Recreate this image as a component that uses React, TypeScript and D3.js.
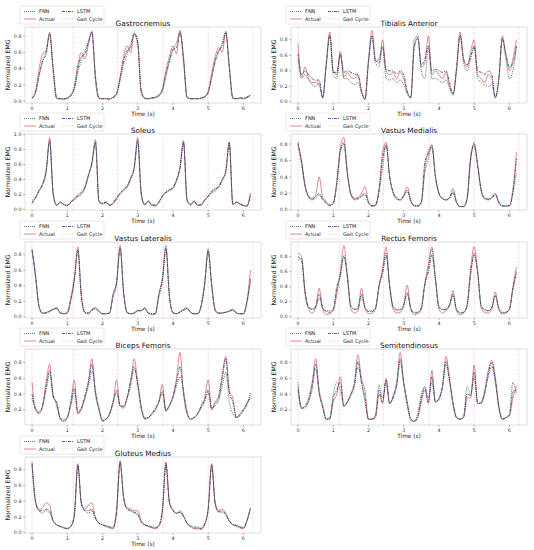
import * as d3 from "d3";

// sample times (s) shared by every series
const time = [
  0.0, 0.1, 0.2, 0.3, 0.4, 0.5, 0.6, 0.7, 0.8, 0.9,
  1.0, 1.1, 1.2, 1.3, 1.4, 1.5, 1.6, 1.7, 1.8, 1.9,
  2.0, 2.1, 2.2, 2.3, 2.4, 2.5, 2.6, 2.7, 2.8, 2.9,
  3.0, 3.1, 3.2, 3.3, 3.4, 3.5, 3.6, 3.7, 3.8, 3.9,
  4.0, 4.1, 4.2, 4.3, 4.4, 4.5, 4.6, 4.7, 4.8, 4.9,
  5.0, 5.1, 5.2, 5.3, 5.4, 5.5, 5.6, 5.7, 5.8, 5.9,
  6.0, 6.1, 6.2,
];
const gaitCycle = [0, 1.17, 2.43, 3.72, 5.0, 6.27];
const timeTicks = [0, 1, 2, 3, 4, 5, 6];
const seriesNames = ["FNN", "Actual", "LSTM", "Gait Cycle"];
const muscles = [
  "Gastrocnemius", "Tibialis Anterior", "Soleus", "Vastus Medialis", "Vastus Lateralis",
  "Rectus Femoris", "Biceps Femoris", "Semitendinosus", "Gluteus Medius",
];

const gastroActual = [
  0.03, 0.12, 0.40, 0.58, 0.62, 0.85, 0.35, 0.03, 0.03, 0.02,
  0.04, 0.08, 0.18, 0.45, 0.60, 0.52, 0.70, 0.86, 0.25, 0.03,
  0.03, 0.03, 0.02, 0.05, 0.10, 0.30, 0.55, 0.68, 0.60, 0.82,
  0.70, 0.10, 0.03, 0.03, 0.04, 0.05, 0.08, 0.15, 0.38, 0.55,
  0.68, 0.58, 0.87, 0.50, 0.04, 0.03, 0.03, 0.03, 0.04, 0.06,
  0.12, 0.35, 0.55, 0.66, 0.60, 0.85, 0.40, 0.03, 0.03, 0.04,
  0.03, 0.05, 0.08,
];
const gastroFNN = [
  0.04, 0.10, 0.30, 0.48, 0.62, 0.83, 0.42, 0.04, 0.03, 0.03,
  0.03, 0.06, 0.15, 0.35, 0.50, 0.62, 0.74, 0.84, 0.32, 0.04,
  0.03, 0.03, 0.03, 0.04, 0.08, 0.25, 0.45, 0.58, 0.70, 0.83,
  0.74, 0.14, 0.04, 0.03, 0.03, 0.04, 0.06, 0.12, 0.30, 0.48,
  0.62, 0.72, 0.86, 0.55, 0.05, 0.03, 0.03, 0.03, 0.03, 0.05,
  0.10, 0.28, 0.48, 0.60, 0.72, 0.86, 0.45, 0.05, 0.03, 0.03,
  0.03, 0.04, 0.06,
];
const gastroLSTM = [
  0.04, 0.12, 0.33, 0.50, 0.58, 0.82, 0.40, 0.04, 0.03, 0.03,
  0.04, 0.07, 0.16, 0.40, 0.55, 0.58, 0.72, 0.85, 0.30, 0.04,
  0.03, 0.03, 0.03, 0.05, 0.09, 0.28, 0.50, 0.62, 0.66, 0.84,
  0.72, 0.12, 0.04, 0.03, 0.04, 0.05, 0.07, 0.14, 0.33, 0.50,
  0.64, 0.66, 0.84, 0.52, 0.05, 0.03, 0.03, 0.03, 0.04, 0.05,
  0.11, 0.30, 0.50, 0.62, 0.68, 0.84, 0.42, 0.04, 0.03, 0.04,
  0.04, 0.05, 0.07,
];

const tibialisActual = [
  0.75, 0.32, 0.45, 0.30, 0.25, 0.25, 0.22, 0.05, 0.50, 0.90,
  0.40, 0.35, 0.65, 0.32, 0.38, 0.32, 0.30, 0.35, 0.15, 0.03,
  0.55, 0.92, 0.55, 0.50, 0.80, 0.40, 0.35, 0.38, 0.30, 0.38,
  0.30, 0.12, 0.05, 0.80, 0.85, 0.45, 0.50, 0.85, 0.35, 0.40,
  0.35, 0.30, 0.38, 0.20, 0.10, 0.45, 0.90, 0.55, 0.45, 0.65,
  0.80, 0.35, 0.30, 0.25, 0.35, 0.30, 0.05, 0.30, 0.85, 0.60,
  0.40, 0.55, 0.80,
];
const tibialisFNN = [
  0.55, 0.30, 0.35, 0.28, 0.22, 0.20, 0.25, 0.05, 0.45, 0.85,
  0.35, 0.30, 0.60, 0.30, 0.30, 0.25, 0.22, 0.25, 0.12, 0.03,
  0.50, 0.85, 0.50, 0.45, 0.70, 0.30, 0.28, 0.30, 0.25, 0.28,
  0.22, 0.10, 0.05, 0.70, 0.82, 0.40, 0.30, 0.70, 0.30, 0.30,
  0.28, 0.25, 0.28, 0.18, 0.08, 0.40, 0.85, 0.50, 0.40, 0.55,
  0.70, 0.30, 0.25, 0.22, 0.20, 0.22, 0.05, 0.28, 0.80, 0.55,
  0.30, 0.40, 0.70,
];
const tibialisLSTM = [
  0.62, 0.35, 0.40, 0.35, 0.30, 0.28, 0.28, 0.06, 0.48, 0.86,
  0.38, 0.38, 0.62, 0.38, 0.40, 0.38, 0.36, 0.35, 0.14, 0.04,
  0.52, 0.85, 0.52, 0.55, 0.72, 0.42, 0.40, 0.40, 0.36, 0.40,
  0.35, 0.14, 0.06, 0.72, 0.82, 0.48, 0.55, 0.72, 0.40, 0.42,
  0.40, 0.38, 0.40, 0.25, 0.10, 0.42, 0.86, 0.55, 0.48, 0.58,
  0.72, 0.40, 0.38, 0.35, 0.40, 0.35, 0.06, 0.30, 0.82, 0.62,
  0.45, 0.50, 0.72,
];

const soleusActual = [
  0.10, 0.15, 0.25, 0.32, 0.50, 0.96, 0.20, 0.05, 0.10, 0.06,
  0.05, 0.10, 0.13, 0.17, 0.20, 0.28, 0.45, 0.62, 0.93, 0.10,
  0.08, 0.10, 0.05, 0.08, 0.14, 0.20, 0.25, 0.30, 0.40, 0.55,
  0.96, 0.20, 0.06, 0.12, 0.06, 0.05, 0.10, 0.18, 0.22, 0.25,
  0.28, 0.38, 0.55, 0.92, 0.12, 0.06, 0.12, 0.05, 0.06, 0.12,
  0.18, 0.22, 0.25, 0.30, 0.40, 0.50, 0.90, 0.06, 0.10, 0.08,
  0.05, 0.04, 0.22,
];
const soleusFNN = [
  0.12, 0.17, 0.24, 0.35, 0.50, 0.90, 0.22, 0.06, 0.09, 0.07,
  0.05, 0.09, 0.14, 0.18, 0.22, 0.30, 0.45, 0.60, 0.88, 0.12,
  0.07, 0.09, 0.06, 0.08, 0.15, 0.22, 0.26, 0.32, 0.42, 0.55,
  0.90, 0.22, 0.07, 0.10, 0.07, 0.05, 0.09, 0.17, 0.24, 0.27,
  0.30, 0.38, 0.55, 0.88, 0.14, 0.06, 0.10, 0.06, 0.06, 0.12,
  0.17, 0.25, 0.28, 0.30, 0.38, 0.50, 0.88, 0.08, 0.09, 0.07,
  0.05, 0.05, 0.18,
];
const soleusLSTM = [
  0.08, 0.16, 0.26, 0.34, 0.52, 0.92, 0.21, 0.06, 0.10, 0.07,
  0.06, 0.10, 0.15, 0.19, 0.23, 0.30, 0.46, 0.63, 0.90, 0.11,
  0.08, 0.10, 0.06, 0.09, 0.16, 0.22, 0.27, 0.31, 0.42, 0.56,
  0.92, 0.21, 0.07, 0.11, 0.06, 0.06, 0.10, 0.18, 0.23, 0.26,
  0.29, 0.40, 0.56, 0.90, 0.13, 0.07, 0.11, 0.06, 0.07, 0.13,
  0.18, 0.24, 0.27, 0.31, 0.40, 0.52, 0.89, 0.07, 0.10, 0.07,
  0.06, 0.05, 0.20,
];

const medialisActual = [
  0.80, 0.60, 0.30, 0.17, 0.14, 0.18, 0.40, 0.15, 0.10, 0.06,
  0.08, 0.35, 0.75, 0.88, 0.45, 0.20, 0.14, 0.15, 0.20, 0.28,
  0.10, 0.05, 0.06, 0.25, 0.70, 0.82, 0.40, 0.22, 0.15, 0.12,
  0.18, 0.28, 0.12, 0.05, 0.05, 0.10, 0.50, 0.72, 0.78, 0.40,
  0.20, 0.14, 0.12, 0.15, 0.26, 0.10, 0.04, 0.04, 0.15, 0.65,
  0.80, 0.55, 0.25, 0.14, 0.13, 0.15, 0.20, 0.10, 0.05, 0.05,
  0.05, 0.25, 0.70,
];
const medialisFNN = [
  0.78, 0.55, 0.28, 0.15, 0.12, 0.14, 0.18, 0.12, 0.08, 0.05,
  0.08, 0.30, 0.70, 0.82, 0.45, 0.18, 0.12, 0.13, 0.16, 0.18,
  0.08, 0.04, 0.05, 0.22, 0.50, 0.80, 0.42, 0.20, 0.13, 0.12,
  0.16, 0.22, 0.10, 0.05, 0.04, 0.08, 0.45, 0.62, 0.80, 0.42,
  0.20, 0.13, 0.12, 0.14, 0.20, 0.08, 0.04, 0.04, 0.12, 0.60,
  0.82, 0.55, 0.22, 0.13, 0.12, 0.14, 0.18, 0.08, 0.04, 0.04,
  0.05, 0.20, 0.45,
];
const medialisLSTM = [
  0.82, 0.58, 0.29, 0.16, 0.13, 0.16, 0.20, 0.13, 0.09, 0.05,
  0.08, 0.32, 0.72, 0.80, 0.44, 0.19, 0.13, 0.14, 0.17, 0.20,
  0.09, 0.05, 0.06, 0.24, 0.62, 0.78, 0.40, 0.21, 0.14, 0.12,
  0.17, 0.24, 0.11, 0.05, 0.05, 0.09, 0.58, 0.68, 0.76, 0.40,
  0.20, 0.14, 0.12, 0.15, 0.22, 0.09, 0.04, 0.04, 0.14, 0.62,
  0.78, 0.52, 0.24, 0.14, 0.13, 0.15, 0.19, 0.09, 0.05, 0.05,
  0.05, 0.22, 0.62,
];

const lateralisActual = [
  0.88, 0.55, 0.12, 0.04, 0.05, 0.08, 0.10, 0.12, 0.05, 0.04,
  0.06, 0.25, 0.50, 0.90, 0.25, 0.05, 0.04, 0.10, 0.12, 0.08,
  0.04, 0.04, 0.05, 0.30, 0.45, 0.92, 0.30, 0.05, 0.04, 0.05,
  0.09, 0.08, 0.12, 0.05, 0.03, 0.04, 0.30, 0.50, 0.92, 0.25,
  0.05, 0.04, 0.07, 0.10, 0.12, 0.06, 0.04, 0.04, 0.15, 0.45,
  0.88, 0.40, 0.08, 0.04, 0.05, 0.06, 0.08, 0.10, 0.05, 0.04,
  0.04, 0.20, 0.60,
];
const lateralisFNN = [
  0.85, 0.50, 0.14, 0.05, 0.06, 0.07, 0.09, 0.10, 0.06, 0.04,
  0.05, 0.20, 0.45, 0.85, 0.28, 0.06, 0.05, 0.08, 0.10, 0.07,
  0.04, 0.04, 0.05, 0.25, 0.42, 0.88, 0.32, 0.06, 0.04, 0.05,
  0.07, 0.08, 0.10, 0.05, 0.04, 0.04, 0.25, 0.45, 0.88, 0.28,
  0.06, 0.04, 0.06, 0.08, 0.10, 0.06, 0.04, 0.04, 0.12, 0.40,
  0.85, 0.42, 0.09, 0.05, 0.05, 0.06, 0.07, 0.09, 0.05, 0.04,
  0.04, 0.18, 0.45,
];
const lateralisLSTM = [
  0.86, 0.52, 0.13, 0.05, 0.05, 0.07, 0.10, 0.11, 0.05, 0.04,
  0.05, 0.22, 0.48, 0.86, 0.27, 0.06, 0.05, 0.09, 0.11, 0.07,
  0.04, 0.04, 0.05, 0.28, 0.44, 0.88, 0.31, 0.06, 0.04, 0.05,
  0.08, 0.08, 0.11, 0.05, 0.04, 0.04, 0.28, 0.48, 0.88, 0.27,
  0.06, 0.04, 0.06, 0.09, 0.11, 0.06, 0.04, 0.04, 0.14, 0.42,
  0.84, 0.41, 0.09, 0.05, 0.05, 0.06, 0.07, 0.09, 0.05, 0.04,
  0.04, 0.19, 0.50,
];

const rectusActual = [
  0.85, 0.80, 0.30, 0.10, 0.05, 0.12, 0.38, 0.10, 0.03, 0.04,
  0.08, 0.30, 0.60, 0.95, 0.55, 0.10, 0.05, 0.08, 0.38, 0.12,
  0.04, 0.05, 0.10, 0.40, 0.65, 0.93, 0.40, 0.10, 0.05, 0.06,
  0.15, 0.42, 0.10, 0.03, 0.04, 0.10, 0.45, 0.70, 0.93, 0.50,
  0.10, 0.05, 0.08, 0.15, 0.35, 0.08, 0.03, 0.05, 0.15, 0.65,
  0.93, 0.60, 0.12, 0.06, 0.05, 0.10, 0.33, 0.10, 0.04, 0.05,
  0.10, 0.40, 0.66,
];
const rectusFNN = [
  0.75, 0.78, 0.35, 0.14, 0.10, 0.12, 0.25, 0.12, 0.08, 0.08,
  0.10, 0.35, 0.55, 0.82, 0.55, 0.15, 0.10, 0.10, 0.28, 0.12,
  0.08, 0.08, 0.12, 0.40, 0.60, 0.85, 0.42, 0.14, 0.10, 0.10,
  0.15, 0.30, 0.12, 0.06, 0.06, 0.12, 0.42, 0.65, 0.90, 0.52,
  0.14, 0.10, 0.10, 0.15, 0.28, 0.10, 0.06, 0.06, 0.15, 0.55,
  0.85, 0.60, 0.15, 0.10, 0.08, 0.12, 0.28, 0.12, 0.06, 0.06,
  0.10, 0.35, 0.58,
];
const rectusLSTM = [
  0.80, 0.75, 0.32, 0.12, 0.10, 0.14, 0.30, 0.12, 0.07, 0.06,
  0.10, 0.40, 0.55, 0.80, 0.52, 0.14, 0.10, 0.12, 0.30, 0.12,
  0.07, 0.07, 0.12, 0.42, 0.58, 0.82, 0.42, 0.13, 0.09, 0.09,
  0.16, 0.32, 0.11, 0.05, 0.06, 0.12, 0.44, 0.60, 0.82, 0.50,
  0.13, 0.09, 0.10, 0.16, 0.30, 0.09, 0.05, 0.06, 0.16, 0.58,
  0.82, 0.58, 0.14, 0.09, 0.08, 0.12, 0.28, 0.11, 0.05, 0.06,
  0.10, 0.38, 0.60,
];

const bicepsActual = [
  0.55, 0.20, 0.15, 0.25, 0.55, 0.78, 0.35, 0.30, 0.08, 0.05,
  0.10, 0.30, 0.58, 0.15, 0.20, 0.35, 0.55, 0.85, 0.40, 0.20,
  0.05, 0.08, 0.15, 0.30, 0.58, 0.25, 0.22, 0.35, 0.55, 0.85,
  0.55, 0.22, 0.08, 0.10, 0.15, 0.20, 0.30, 0.52, 0.18, 0.25,
  0.38, 0.60, 0.93, 0.40, 0.15, 0.08, 0.10, 0.15, 0.25, 0.35,
  0.58, 0.20, 0.30, 0.38, 0.65, 0.88, 0.45, 0.35, 0.10, 0.15,
  0.20, 0.28, 0.35,
];
const bicepsFNN = [
  0.35, 0.22, 0.18, 0.25, 0.45, 0.65, 0.40, 0.25, 0.10, 0.08,
  0.10, 0.25, 0.42, 0.18, 0.22, 0.35, 0.50, 0.70, 0.45, 0.22,
  0.08, 0.08, 0.15, 0.28, 0.42, 0.25, 0.25, 0.35, 0.50, 0.72,
  0.55, 0.25, 0.10, 0.10, 0.14, 0.20, 0.30, 0.45, 0.20, 0.25,
  0.35, 0.50, 0.62, 0.45, 0.18, 0.08, 0.10, 0.14, 0.22, 0.30,
  0.42, 0.22, 0.25, 0.32, 0.50, 0.68, 0.30, 0.15, 0.10, 0.12,
  0.18, 0.25, 0.42,
];
const bicepsLSTM = [
  0.40, 0.20, 0.16, 0.25, 0.50, 0.70, 0.38, 0.28, 0.09, 0.06,
  0.10, 0.28, 0.48, 0.16, 0.22, 0.38, 0.55, 0.78, 0.42, 0.21,
  0.06, 0.08, 0.14, 0.30, 0.45, 0.25, 0.24, 0.36, 0.58, 0.75,
  0.50, 0.22, 0.09, 0.10, 0.15, 0.22, 0.30, 0.42, 0.19, 0.26,
  0.36, 0.55, 0.75, 0.42, 0.16, 0.08, 0.10, 0.15, 0.24, 0.32,
  0.45, 0.21, 0.28, 0.35, 0.60, 0.85, 0.42, 0.30, 0.10, 0.14,
  0.20, 0.28, 0.38,
];

const semitendActual = [
  0.50, 0.22, 0.25, 0.35, 0.55, 0.85, 0.45, 0.25, 0.08, 0.08,
  0.30, 0.40, 0.62, 0.25, 0.30, 0.40, 0.55, 0.90, 0.60, 0.45,
  0.08, 0.08, 0.10, 0.40, 0.28, 0.60, 0.28, 0.38, 0.55, 0.93,
  0.55, 0.30, 0.08, 0.05, 0.10, 0.30, 0.45, 0.28, 0.70, 0.30,
  0.35, 0.50, 0.88, 0.60, 0.30, 0.10, 0.08, 0.10, 0.35, 0.35,
  0.77, 0.28, 0.30, 0.45, 0.70, 0.83, 0.62, 0.25, 0.08, 0.10,
  0.12, 0.35, 0.50,
];
const semitendFNN = [
  0.55, 0.22, 0.22, 0.30, 0.45, 0.72, 0.40, 0.22, 0.08, 0.10,
  0.40, 0.55, 0.45, 0.25, 0.30, 0.38, 0.50, 0.75, 0.55, 0.30,
  0.08, 0.08, 0.15, 0.52, 0.35, 0.55, 0.28, 0.35, 0.50, 0.80,
  0.52, 0.25, 0.08, 0.06, 0.15, 0.40, 0.50, 0.35, 0.55, 0.30,
  0.32, 0.48, 0.78, 0.55, 0.25, 0.10, 0.08, 0.12, 0.50, 0.40,
  0.60, 0.28, 0.28, 0.40, 0.62, 0.75, 0.55, 0.22, 0.08, 0.10,
  0.15, 0.55, 0.40,
];
const semitendLSTM = [
  0.45, 0.22, 0.24, 0.32, 0.50, 0.78, 0.42, 0.24, 0.08, 0.09,
  0.35, 0.45, 0.55, 0.24, 0.30, 0.40, 0.52, 0.82, 0.55, 0.35,
  0.08, 0.08, 0.12, 0.45, 0.30, 0.58, 0.28, 0.36, 0.52, 0.85,
  0.55, 0.28, 0.08, 0.05, 0.12, 0.35, 0.48, 0.30, 0.62, 0.30,
  0.34, 0.50, 0.82, 0.58, 0.28, 0.10, 0.08, 0.11, 0.40, 0.38,
  0.68, 0.28, 0.29, 0.42, 0.66, 0.80, 0.58, 0.24, 0.08, 0.10,
  0.13, 0.42, 0.45,
];

const gluteusActual = [
  0.90, 0.40, 0.30, 0.32, 0.38, 0.35, 0.15, 0.10, 0.08, 0.06,
  0.05, 0.08, 0.20, 0.88, 0.38, 0.30, 0.35, 0.38, 0.20, 0.12,
  0.10, 0.08, 0.06, 0.05, 0.25, 0.92, 0.45, 0.32, 0.30, 0.28,
  0.28, 0.15, 0.10, 0.08, 0.06, 0.05, 0.08, 0.25, 0.90, 0.40,
  0.30, 0.25, 0.28, 0.22, 0.12, 0.08, 0.05, 0.05, 0.04, 0.10,
  0.30, 0.88, 0.38, 0.28, 0.30, 0.25, 0.15, 0.10, 0.08, 0.06,
  0.05, 0.15, 0.32,
];
const gluteusFNN = [
  0.85, 0.38, 0.28, 0.25, 0.28, 0.25, 0.15, 0.10, 0.08, 0.07,
  0.06, 0.08, 0.25, 0.85, 0.38, 0.28, 0.25, 0.28, 0.18, 0.12,
  0.10, 0.09, 0.08, 0.07, 0.30, 0.88, 0.45, 0.30, 0.28, 0.25,
  0.22, 0.14, 0.10, 0.09, 0.08, 0.07, 0.10, 0.30, 0.86, 0.38,
  0.28, 0.24, 0.26, 0.20, 0.12, 0.09, 0.08, 0.07, 0.06, 0.12,
  0.30, 0.85, 0.36, 0.26, 0.26, 0.22, 0.15, 0.11, 0.10, 0.08,
  0.07, 0.15, 0.30,
];
const gluteusLSTM = [
  0.88, 0.40, 0.28, 0.28, 0.30, 0.28, 0.15, 0.10, 0.08, 0.06,
  0.05, 0.08, 0.22, 0.86, 0.36, 0.28, 0.28, 0.30, 0.18, 0.12,
  0.10, 0.08, 0.07, 0.06, 0.28, 0.90, 0.44, 0.30, 0.28, 0.26,
  0.24, 0.14, 0.10, 0.08, 0.07, 0.06, 0.09, 0.28, 0.88, 0.38,
  0.28, 0.25, 0.26, 0.21, 0.12, 0.08, 0.06, 0.06, 0.05, 0.11,
  0.30, 0.86, 0.37, 0.27, 0.28, 0.23, 0.15, 0.10, 0.09, 0.07,
  0.06, 0.15, 0.31,
];

const panelSeries = [
  [gastroFNN, gastroActual, gastroLSTM],
  [tibialisFNN, tibialisActual, tibialisLSTM],
  [soleusFNN, soleusActual, soleusLSTM],
  [medialisFNN, medialisActual, medialisLSTM],
  [lateralisFNN, lateralisActual, lateralisLSTM],
  [rectusFNN, rectusActual, rectusLSTM],
  [bicepsFNN, bicepsActual, bicepsLSTM],
  [semitendFNN, semitendActual, semitendLSTM],
  [gluteusFNN, gluteusActual, gluteusLSTM],
];

const W = 534;
const H = 550;
const colX = [0, 266];
const rowY = [0, 107, 215, 322, 430];
const font = "DejaVu Sans, sans-serif";

// FNN, Actual, LSTM, Gait Cycle
const styles = [
  { stroke: "#2a6a34", dash: "0.9 1.1", width: 0.9 },
  { stroke: "#d9505a", dash: "", width: 0.7 },
  { stroke: "#2c3580", dash: "3 1 1 1", width: 0.8 },
  { stroke: "#d2a6ae", dash: "1 1.5", width: 0.6 },
];

const Legend = () => (
  <g>
    <rect x={20} y={6} width={84} height={18} rx={1.5} fill="white" fillOpacity={0.8} stroke="#cccccc" strokeWidth={0.5} />
    {seriesNames.map((name, i) => {
      const cx = i < 2 ? 24 : 62;
      const cy = i % 2 === 0 ? 11.5 : 19;
      const s = styles[i];
      return (
        <g key={name}>
          <line x1={cx} x2={cx + 12} y1={cy} y2={cy} stroke={s.stroke} strokeWidth={s.width} strokeDasharray={s.dash} />
          <text x={cx + 15} y={cy + 1.7} fontSize={5} fontFamily={font} fill="#222">{name}</text>
        </g>
      );
    })}
  </g>
);

const Panel = ({ index }: { index: number }) => {
  const series = panelSeries[index];
  const ox = colX[index % 2];
  const oy = rowY[Math.floor(index / 2)];
  const x = d3.scaleLinear().domain([-0.2, 6.5]).range([25, 261]);
  const all = series.flat();
  const lo = d3.min(all)!;
  const hi = d3.max(all)!;
  const pad = (hi - lo) * 0.05;
  const y = d3.scaleLinear().domain([lo - pad, hi + pad]).range([103, 27]);
  const yTicks = y.ticks(5).filter((t) => t >= 0);
  const line = d3
    .line<number>()
    .x((_, i) => x(time[i]))
    .y((d) => y(d))
    .curve(d3.curveMonotoneX);
  const drawOrder = [1, 0, 2];

  return (
    <g transform={`translate(${ox},${oy})`}>
      <rect x={25} y={27} width={236} height={76} fill="none" stroke="#c8c8c8" strokeWidth={0.6} />
      {gaitCycle.map((g) => (
        <line key={g} x1={x(g)} x2={x(g)} y1={27} y2={103} stroke={styles[3].stroke} strokeWidth={styles[3].width} strokeDasharray={styles[3].dash} />
      ))}
      {drawOrder.map((k) => (
        <path key={k} d={line(series[k])!} fill="none" stroke={styles[k].stroke} strokeWidth={styles[k].width} strokeDasharray={styles[k].dash} />
      ))}
      {yTicks.map((t) => (
        <g key={t}>
          <line x1={23} x2={25} y1={y(t)} y2={y(t)} stroke="#555" strokeWidth={0.4} />
          <text x={21.5} y={y(t) + 1.6} fontSize={4.8} textAnchor="end" fontFamily={font} fill="#333">{d3.format(".1f")(t)}</text>
        </g>
      ))}
      {timeTicks.map((t) => (
        <g key={t}>
          <line x1={x(t)} x2={x(t)} y1={103} y2={105} stroke="#555" strokeWidth={0.4} />
          <text x={x(t)} y={109.5} fontSize={4.8} textAnchor="middle" fontFamily={font} fill="#333">{t}</text>
        </g>
      ))}
      <text x={143} y={116} fontSize={5.8} textAnchor="middle" fontFamily={font} fill="#222">Time (s)</text>
      <text transform={`translate(10,65) rotate(-90)`} fontSize={6.2} textAnchor="middle" fontFamily={font} fill="#222">Normalized EMG</text>
      <text x={143} y={25.5} fontSize={7.3} textAnchor="middle" fontFamily={font} fill="#111">{muscles[index]}</text>
      <Legend />
    </g>
  );
};

export default function App() {
  return (
    <div style={{ position: "absolute", left: 0, top: 0 }}>
      <svg width={W} height={H} viewBox={`0 0 ${W} ${H}`} style={{ display: "block", background: "white" }}>
        {muscles.map((m, i) => (
          <Panel key={m} index={i} />
        ))}
      </svg>
    </div>
  );
}
